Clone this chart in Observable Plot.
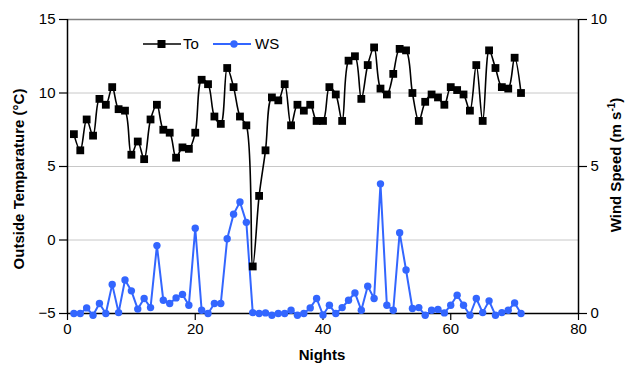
<!DOCTYPE html>
<html><head><meta charset="utf-8">
<script src="https://cdn.jsdelivr.net/npm/d3@7"></script>
<script src="https://cdn.jsdelivr.net/npm/@observablehq/plot@0.6"></script>
<style>
body{margin:0;background:#fff;font-family:"Liberation Sans",Arial,sans-serif;}
#wrap{position:relative;width:626px;height:367px;overflow:hidden;}
.lab{position:absolute;font-weight:bold;font-size:15px;white-space:nowrap;color:#000;line-height:17px;}
.rot{transform:translate(-50%,-50%) rotate(-90deg);}
.leg{position:absolute;font-size:15px;line-height:17px;color:#000;white-space:nowrap;}
.sw{position:absolute;}
</style></head><body><div id="wrap"></div>
<script>
const nights = [1,2,3,4,5,6,7,8,9,10,11,12,13,14,15,16,17,18,19,20,21,22,23,24,25,26,27,28,29,30,31,32,33,34,35,36,37,38,39,40,41,42,43,44,45,46,47,48,49,50,51,52,53,54,55,56,57,58,59,60,61,62,63,64,65,66,67,68,69,70,71];
const temperature = [7.2,6.1,8.2,7.1,9.6,9.2,10.4,8.9,8.8,5.8,6.7,5.5,8.2,9.2,7.5,7.3,5.6,6.3,6.2,7.3,10.9,10.6,8.4,7.9,11.7,10.4,8.4,7.8,-1.8,3.0,6.1,9.7,9.5,10.6,7.8,9.2,8.8,9.2,8.1,8.1,10.4,9.9,8.1,12.2,12.5,9.6,11.9,13.1,10.3,9.9,11.3,13.0,12.9,10.0,8.1,9.4,9.9,9.7,9.2,10.4,10.2,9.9,8.8,11.9,8.1,12.9,11.7,10.4,10.3,12.4,10.0];
const windSpeed = [0,0,0.19,-0.06,0.34,0,0.99,0.03,1.14,0.77,0.15,0.51,0.2,2.31,0.45,0.34,0.53,0.65,0.28,2.9,0.11,0,0.34,0.34,2.54,3.38,3.79,3.1,0.03,0,0.02,-0.06,0,0,0.11,-0.06,0,0.19,0.51,-0.05,0.28,0,0.2,0.45,0.7,0.11,0.93,0.51,4.41,0.28,0.11,2.75,1.48,0.17,0.2,-0.06,0.11,0.14,0.02,0.28,0.62,0.28,-0.06,0.51,0.03,0.43,-0.06,0.03,0.11,0.36,0];
const xTicks = [0,20,40,60,80];
const tempTicks = [-5,0,5,10,15];
const wsTicks = [0,5,10];
const gridTemps = [0,5,10];
const seriesNames = ["To","WS"];
// secondary axis mapping: wind speed 0..10 m/s shares the -5..15 °C frame
const tempMin = -5, wsScale = 2;
const wsToT = w => tempMin + w * wsScale;

const rows = nights.map((n,i)=>({night:n, T:temperature[i], WS:windSpeed[i]}));
const blue = "#3366ff";

const chart = Plot.plot({
  width:626, height:367,
  marginLeft:67, marginRight:48, marginTop:19, marginBottom:54,
  style:{fontFamily:"'Liberation Sans', Arial, sans-serif", fontSize:"15px", color:"#000", background:"#fff", overflow:"visible"},
  x:{domain:[0,80]},
  y:{domain:[-5,15]},
  marks:[
    Plot.ruleY(gridTemps,{stroke:"#c8c8c8", strokeWidth:1}),
    Plot.ruleY([15],{stroke:"#808080", strokeWidth:1.5}),
    Plot.axisX({ticks:xTicks, tickSize:7, tickPadding:3, label:null, strokeWidth:1.2}),
    Plot.axisY({ticks:tempTicks, tickSize:8, tickPadding:4, label:null, strokeWidth:1.2}),
    Plot.axisY({anchor:"right", ticks:wsTicks.map(wsToT), tickFormat:t=>String((t-tempMin)/wsScale), tickSize:8, tickPadding:4, label:null, strokeWidth:1.2}),
    Plot.ruleX([0,80],{stroke:"#000", strokeWidth:1.5}),
    Plot.ruleY([-5],{stroke:"#000", strokeWidth:1.5}),
    Plot.line(rows,{x:"night", y:d=>wsToT(d.WS), stroke:blue, strokeWidth:2}),
    Plot.dot(rows,{x:"night", y:d=>wsToT(d.WS), r:3.7, fill:blue, stroke:"none"}),
    Plot.line(rows,{x:"night", y:"T", stroke:"#000", strokeWidth:1.6, curve:"catmull-rom"}),
    Plot.dot(rows,{x:"night", y:"T", symbol:"square", r:4.4, fill:"#000", stroke:"none"})
  ]
});

const wrap = document.getElementById("wrap");
wrap.appendChild(chart);

function addLabel(html, cls, style){
  const d = document.createElement("div");
  d.className = cls; d.innerHTML = html;
  Object.assign(d.style, style);
  wrap.appendChild(d);
  return d;
}
addLabel("Outside Temparature (°C)", "lab rot", {left:"18px", top:"179px"});
addLabel("Wind Speed (m s<sup style='font-size:10px;line-height:0'>-1</sup>)", "lab rot", {left:"615px", top:"165px"});
addLabel("Nights", "lab", {left:"322px", top:"354px", transform:"translate(-50%,-50%)"});

// legend
const ns = "http://www.w3.org/2000/svg";
function swatch(left, kind, color){
  const s = document.createElementNS(ns,"svg");
  s.setAttribute("width","38"); s.setAttribute("height","12");
  s.setAttribute("class","sw");
  s.style.left = left+"px"; s.style.top = "38px";
  const l = document.createElementNS(ns,"line");
  l.setAttribute("x1","0"); l.setAttribute("x2","38"); l.setAttribute("y1","6"); l.setAttribute("y2","6");
  l.setAttribute("stroke",color); l.setAttribute("stroke-width", kind==="square" ? "1.6" : "2");
  s.appendChild(l);
  let m;
  if(kind==="square"){ m = document.createElementNS(ns,"rect"); m.setAttribute("x","14.5"); m.setAttribute("y","2"); m.setAttribute("width","8"); m.setAttribute("height","8"); }
  else { m = document.createElementNS(ns,"circle"); m.setAttribute("cx","21"); m.setAttribute("cy","6"); m.setAttribute("r","3.7"); }
  m.setAttribute("fill",color);
  s.appendChild(m);
  wrap.appendChild(s);
}
swatch(143,"square","#000");
addLabel(seriesNames[0], "leg", {left:"183px", top:"35px"});
swatch(213,"circle",blue);
addLabel(seriesNames[1], "leg", {left:"255px", top:"35px"});
</script></body></html>
